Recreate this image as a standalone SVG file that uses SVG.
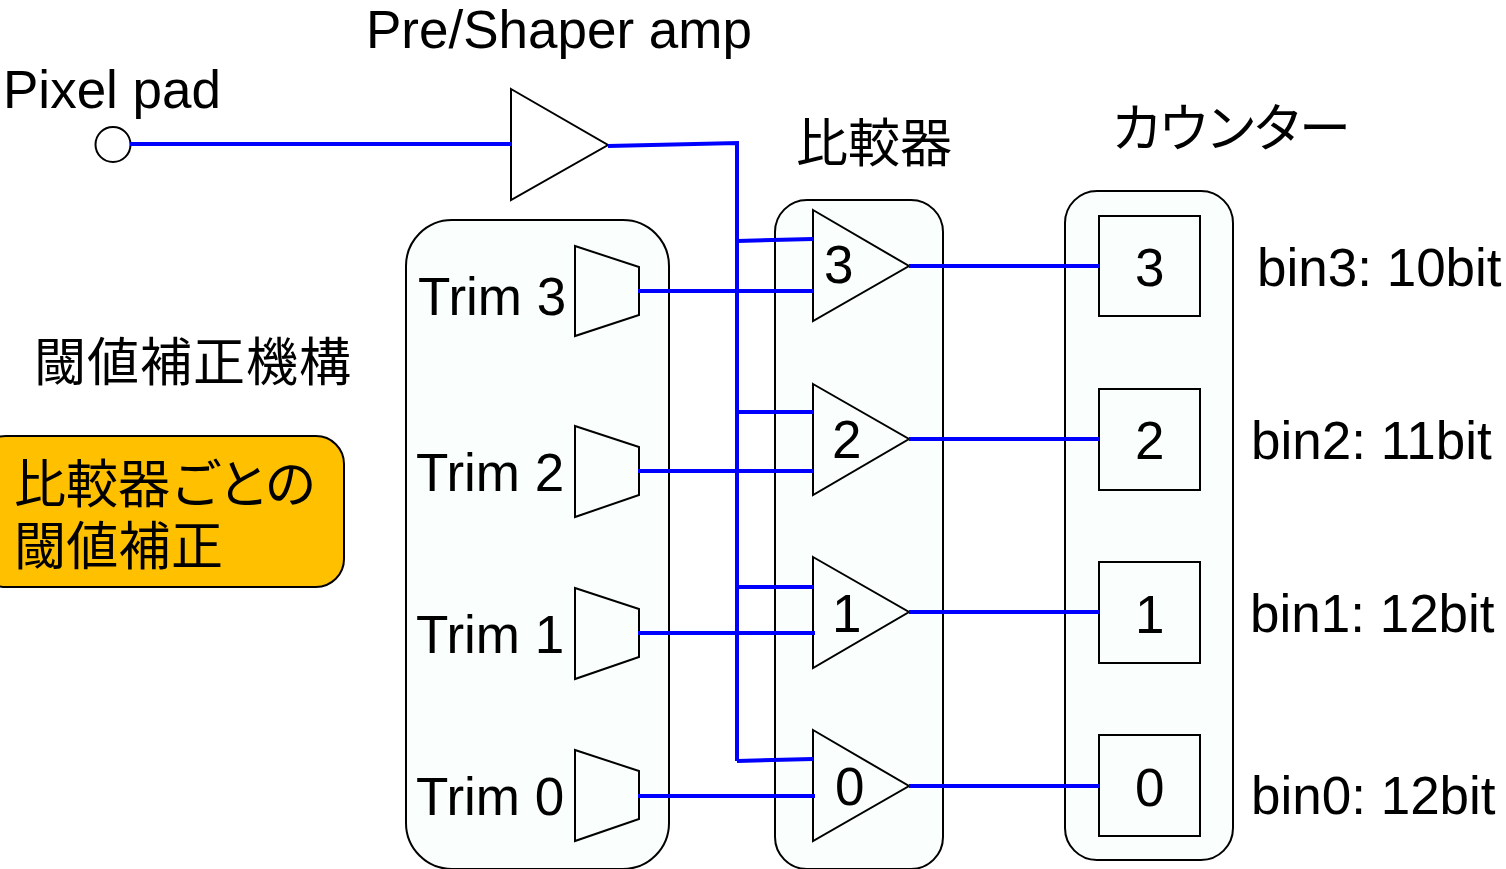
<svg xmlns="http://www.w3.org/2000/svg" width="1506" height="869" viewBox="0 0 1506 869">
<style>
text{font-family:"Liberation Sans","Noto Sans CJK JP",sans-serif;fill:#000}
.t{font-size:53px}
.j{font-size:52px}
.s{fill:#fafffd;stroke:#000;stroke-width:2}
.w{fill:#fff;stroke:#000;stroke-width:2}
.c{fill:none;stroke:#0000ff;stroke-width:4}
</style>
<rect width="1506" height="869" fill="#fff"/>
<g id="trim-group"><rect class="s" x="406" y="220" width="263" height="649" rx="46"/></g>
<g id="comparator-group"><rect class="s" x="775" y="200" width="168" height="669" rx="32"/></g>
<g id="counter-group"><rect class="s" x="1065" y="191" width="168" height="669" rx="32"/></g>
<g id="note"><rect x="-22" y="436" width="366" height="151" rx="28" fill="#ffc000" stroke="#000" stroke-width="2"/>
<text class="j" x="14" y="503">比較器<tspan letter-spacing="-4.500">ごとの</tspan></text><text class="j" x="14" y="565" letter-spacing="0.300">閾値補正</text></g>
<g id="pad"><circle cx="113" cy="144.500" r="17.500" class="w"/><text class="t" x="3" y="108">Pixel pad</text></g>
<g id="amp"><polygon class="w" points="511,89 608,145 511,200"/><text class="t" x="366" y="48">Pre/Shaper amp</text></g>
<g id="trim3"><polygon class="s" points="575,246 639,267 639,315 575,336"/><text class="t" x="418" y="315">Trim 3</text></g>
<g id="trim2"><polygon class="s" points="575,426 639,447 639,495 575,517"/><text class="t" x="416" y="491">Trim 2</text></g>
<g id="trim1"><polygon class="s" points="575,588 639,609 639,657 575,679"/><text class="t" x="416" y="653">Trim 1</text></g>
<g id="trim0"><polygon class="s" points="575,750 639,771 639,819 575,841"/><text class="t" x="416" y="815">Trim 0</text></g>
<g id="comp3"><polygon class="s" points="813,210 909,266 813,321"/><text class="t" x="824" y="283">3</text></g>
<g id="comp2"><polygon class="s" points="813,384 909,439 813,495"/><text class="t" x="832" y="458">2</text></g>
<g id="comp1"><polygon class="s" points="813,557 909,612 813,668"/><text class="t" x="832" y="632">1</text></g>
<g id="comp0"><polygon class="s" points="813,730 909,786 813,841"/><text class="t" x="835" y="805">0</text></g>
<g id="cnt3"><rect class="s" x="1099" y="216" width="101" height="100"/><text class="t" x="1135" y="286">3</text></g>
<g id="cnt2"><rect class="s" x="1099" y="389" width="101" height="101"/><text class="t" x="1135" y="459">2</text></g>
<g id="cnt1"><rect class="s" x="1099" y="562" width="101" height="101"/><text class="t" x="1135" y="633">1</text></g>
<g id="cnt0"><rect class="s" x="1099" y="735" width="101" height="101"/><text class="t" x="1135" y="806">0</text></g>
<g id="labels">
<text class="j" x="796" y="162">比較器</text>
<text class="j" x="1111" y="147" letter-spacing="-5">カウンター</text>
<text class="j" x="34" y="381" letter-spacing="1">閾値補正機構</text>
<text class="t" x="1257" y="286">bin3: 10bit</text>
<text class="t" x="1251" y="459">bin2: 11bit</text>
<text class="t" x="1250" y="632">bin1: 12bit</text>
<text class="t" x="1251" y="814">bin0: 12bit</text>
</g>
<g id="connectors">
<path class="c" d="M130 144H511"/>
<path class="c" d="M608 146L737 143V761"/>
<path class="c" d="M737 241L813 239M737 412H813M737 587H813M737 761L813 759"/>
<path class="c" d="M638 291H813M638 471H813M638 633H815M638 796H815"/>
<path class="c" d="M909 266H1099M909 439H1099M909 612H1099M909 786H1099"/>
</g>
</svg>
